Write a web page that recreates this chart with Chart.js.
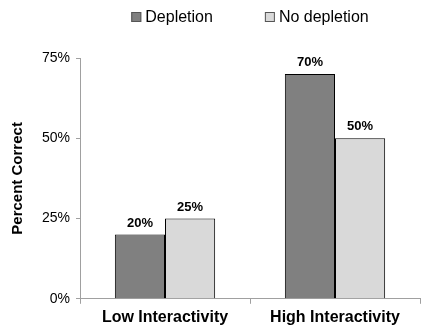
<!DOCTYPE html>
<html>
<head>
<meta charset="utf-8">
<script src="https://cdn.jsdelivr.net/npm/chart.js@4/dist/chart.umd.min.js"></script>
<style>
  html, body { margin: 0; padding: 0; background: #fff; }
  #wrap { width: 427px; height: 331px; }
</style>
</head>
<body>
<div id="wrap"><canvas id="grafico" width="427" height="331"></canvas></div>
<script>
// dados
const categorias = ['Low Interactivity', 'High Interactivity'];
const depletion = [20, 70];
const noDepletion = [25, 50];
const yTicks = [0, 25, 50, 75];

const fonte = '"Liberation Sans", Arial, sans-serif';

// rótulos em cima das barras
const rotulosBarras = {
  id: 'rotulosBarras',
  afterDatasetsDraw(chart) {
    const ctx = chart.ctx;
    ctx.save();
    ctx.font = 'bold 13px ' + fonte;
    ctx.fillStyle = '#000';
    ctx.textAlign = 'center';
    ctx.textBaseline = 'bottom';
    chart.data.datasets.forEach((ds, i) => {
      chart.getDatasetMeta(i).data.forEach((bar, j) => {
        ctx.fillText(ds.data[j] + '%', bar.x, bar.y - 5);
      });
    });
    ctx.restore();
  }
};

// legenda desenhada à mão (espaçamento largo entre os itens)
const legendaTopo = {
  id: 'legendaTopo',
  afterDraw(chart) {
    const ctx = chart.ctx;
    const area = chart.chartArea;
    ctx.save();
    ctx.font = '16px ' + fonte;
    ctx.textBaseline = 'middle';
    const caixa = 10, gap = 4, espaco = 52;
    const itens = chart.data.datasets.map(ds => ({ texto: ds.label, cor: ds.backgroundColor, w: ctx.measureText(ds.label).width }));
    let total = 0;
    itens.forEach((it, i) => { total += caixa + gap + it.w + (i ? espaco : 0); });
    let x = (area.left + area.right) / 2 - total / 2;
    const y = 17;
    itens.forEach(it => {
      ctx.fillStyle = it.cor;
      ctx.fillRect(x, y - caixa / 2, caixa, caixa);
      ctx.strokeStyle = '#555';
      ctx.lineWidth = 1;
      ctx.strokeRect(x + 0.5, y - caixa / 2 + 0.5, caixa - 1, caixa - 1);
      ctx.fillStyle = '#000';
      ctx.fillText(it.texto, x + caixa + gap, y + 1);
      x += caixa + gap + it.w + espaco;
    });
    ctx.restore();
  }
};

const ctx = document.getElementById('grafico').getContext('2d');
const grafico = new Chart(ctx, {
  type: 'bar',
  data: {
    labels: categorias,
    datasets: [
      {
        label: 'Depletion',
        data: depletion,
        backgroundColor: '#808080',
        borderColor: '#000',
        borderWidth: 1
      },
      {
        label: 'No depletion',
        data: noDepletion,
        backgroundColor: '#d9d9d9',
        borderColor: '#000',
        borderWidth: 1
      }
    ]
  },
  options: {
    responsive: false,
    animation: false,
    layout: { padding: { left: 9, right: 7, top: 58, bottom: 0 } },
    datasets: { bar: { categoryPercentage: 0.59, barPercentage: 1 } },
    plugins: {
      tooltip: { enabled: false },
      legend: { display: false }
    },
    scales: {
      x: {
        offset: true,
        grid: { display: true, drawOnChartArea: false, offset: true, color: '#a0a0a0', tickLength: 5 },
        border: { color: '#a0a0a0' },
        ticks: {
          color: '#000',
          padding: 4,
          font: { family: fonte, size: 16, weight: 'bold' }
        }
      },
      y: {
        min: 0,
        max: 75,
        afterBuildTicks(axis) { axis.ticks = yTicks.map(v => ({ value: v })); },
        afterFit(axis) { axis.width = 71; },
        grid: { display: true, drawOnChartArea: false, color: '#a0a0a0', tickLength: 4 },
        border: { color: '#a0a0a0' },
        ticks: {
          color: '#000',
          padding: 6,
          font: { family: fonte, size: 14 },
          callback: v => v + '%'
        },
        title: {
          display: true,
          text: 'Percent Correct',
          color: '#000',
          padding: { top: 0, bottom: 0 },
          font: { family: fonte, size: 15, weight: 'bold' }
        }
      }
    }
  },
  plugins: [rotulosBarras, legendaTopo]
});
</script>
</body>
</html>
